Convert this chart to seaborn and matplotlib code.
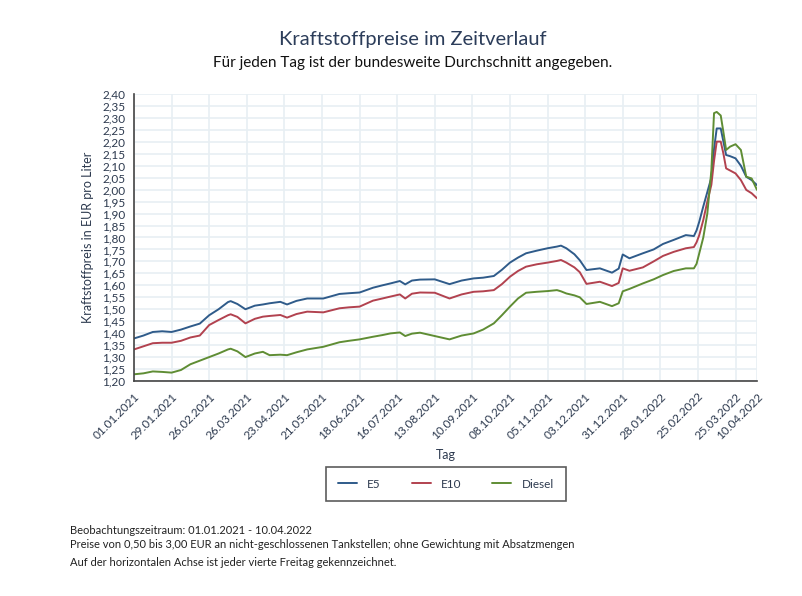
import pandas as pd
import matplotlib.pyplot as plt
from matplotlib.ticker import MultipleLocator, FuncFormatter
import seaborn as sns

# Werte (Stichtage, nicht jeder Tag)
dates = [
    "2021-01-01", "2021-01-08", "2021-01-15", "2021-01-22", "2021-01-29", "2021-02-05",
    "2021-02-12", "2021-02-19", "2021-02-26", "2021-03-05", "2021-03-12", "2021-03-14",
    "2021-03-19", "2021-03-25", "2021-04-01", "2021-04-07", "2021-04-12", "2021-04-20",
    "2021-04-25", "2021-05-02", "2021-05-10", "2021-05-22", "2021-06-03", "2021-06-10",
    "2021-06-18", "2021-06-28", "2021-07-05", "2021-07-11", "2021-07-18", "2021-07-22",
    "2021-07-27", "2021-08-02", "2021-08-13", "2021-08-24", "2021-09-02", "2021-09-11",
    "2021-09-18", "2021-09-26", "2021-10-02", "2021-10-08", "2021-10-14", "2021-10-20",
    "2021-10-28", "2021-11-05", "2021-11-12", "2021-11-15", "2021-11-19", "2021-11-25",
    "2021-11-29", "2021-12-04", "2021-12-14", "2021-12-23", "2021-12-28", "2021-12-31",
    "2022-01-05", "2022-01-15", "2022-01-23", "2022-01-30", "2022-02-07", "2022-02-16",
    "2022-02-22", "2022-02-24", "2022-02-26", "2022-03-01", "2022-03-04", "2022-03-07",
    "2022-03-09", "2022-03-11", "2022-03-14", "2022-03-16", "2022-03-18", "2022-03-21",
    "2022-03-25", "2022-03-29", "2022-04-02", "2022-04-06", "2022-04-10",
]
e5 = [
    1.378, 1.390, 1.405, 1.408, 1.405, 1.415,
    1.428, 1.440, 1.475, 1.500, 1.530, 1.534,
    1.522, 1.500, 1.515, 1.520, 1.525, 1.531,
    1.520, 1.535, 1.545, 1.545, 1.564, 1.567,
    1.570, 1.590, 1.600, 1.608, 1.618, 1.604,
    1.620, 1.624, 1.625, 1.605, 1.620, 1.629,
    1.632, 1.639, 1.665, 1.695, 1.716, 1.734,
    1.745, 1.755, 1.762, 1.766, 1.755, 1.730,
    1.705, 1.664, 1.671, 1.653, 1.670, 1.729,
    1.713, 1.734, 1.750, 1.773, 1.790, 1.810,
    1.806, 1.830, 1.866, 1.930, 1.990, 2.050,
    2.170, 2.256, 2.256, 2.200, 2.145, 2.140,
    2.131, 2.100, 2.054, 2.040, 2.019,
]
e10 = [
    1.332, 1.345, 1.358, 1.360, 1.360, 1.368,
    1.382, 1.390, 1.434, 1.455, 1.475, 1.479,
    1.468, 1.441, 1.460, 1.469, 1.472, 1.476,
    1.465, 1.480, 1.490, 1.487, 1.504, 1.508,
    1.511, 1.536, 1.545, 1.553, 1.562, 1.545,
    1.565, 1.570, 1.569, 1.545, 1.562, 1.573,
    1.575, 1.580, 1.605, 1.636, 1.660, 1.678,
    1.688, 1.695, 1.702, 1.706, 1.695, 1.675,
    1.655, 1.606, 1.615, 1.597, 1.610, 1.671,
    1.661, 1.675, 1.700, 1.723, 1.740, 1.755,
    1.760, 1.780, 1.810, 1.873, 1.950, 2.020,
    2.120, 2.201, 2.201, 2.150, 2.089, 2.080,
    2.068, 2.040, 1.999, 1.985, 1.964,
]
diesel = [
    1.228, 1.232, 1.240, 1.238, 1.235, 1.246,
    1.270, 1.285, 1.300, 1.315, 1.332, 1.335,
    1.324, 1.300, 1.315, 1.322, 1.308, 1.310,
    1.308, 1.320, 1.332, 1.343, 1.362, 1.368,
    1.374, 1.385, 1.392, 1.399, 1.403, 1.388,
    1.398, 1.402, 1.388, 1.374, 1.390, 1.399,
    1.415, 1.441, 1.475, 1.511, 1.545, 1.569,
    1.573, 1.576, 1.580, 1.575, 1.566, 1.558,
    1.550, 1.522, 1.531, 1.513, 1.525, 1.575,
    1.585, 1.608, 1.625, 1.643, 1.660, 1.671,
    1.671, 1.690, 1.734, 1.800, 1.900, 2.080,
    2.320, 2.325, 2.310, 2.240, 2.166, 2.180,
    2.190, 2.166, 2.054, 2.047, 1.999,
]

series_names = ["E5", "E10", "Diesel"]
colors = {"E5": "#2f5b8a", "E10": "#b2424f", "Diesel": "#5f8d34"}
text_col = "#2d3a4f"

df = pd.DataFrame({"Tag": pd.to_datetime(dates), "E5": e5, "E10": e10, "Diesel": diesel})
long_df = df.melt(id_vars="Tag", var_name="Sorte", value_name="Preis")

sns.set_theme(style="white")
plt.rcParams["font.family"] = ["Lato", "DejaVu Sans"]

fig = plt.figure(figsize=(8.03, 5.96), dpi=100)
ax = fig.add_axes([134 / 803, 1 - 381 / 596, (757 - 134) / 803, (381 - 94) / 596])

sns.lineplot(data=long_df, x="Tag", y="Preis", hue="Sorte", hue_order=series_names,
             palette=colors, linewidth=1.4, ax=ax, legend=True)

start = pd.Timestamp("2021-01-01")
end = pd.Timestamp("2022-04-10")
ticks = list(pd.date_range(start, end, freq="28D")) + [end]
ax.set_xlim(start, end)
ax.set_xticks(ticks)
ax.set_xticklabels([t.strftime("%d.%m.%Y") for t in ticks], rotation=45, ha="right",
                   rotation_mode="anchor", fontsize=8.5, color=text_col)

ax.set_ylim(1.20, 2.40)
ax.yaxis.set_major_locator(MultipleLocator(0.05))
ax.yaxis.set_major_formatter(FuncFormatter(lambda v, p: f"{v:.2f}".replace(".", ",")))
ax.tick_params(axis="y", labelsize=8.5, labelcolor=text_col, length=4, width=1, color="#444444", pad=2)
ax.tick_params(axis="x", length=5, width=1, color="#444444", pad=2)

ax.grid(True, color="#e8eff3", linewidth=1.2)
ax.set_axisbelow(True)
for s in ["top", "right"]:
    ax.spines[s].set_visible(False)
for s in ["left", "bottom"]:
    ax.spines[s].set_color("#444444")
    ax.spines[s].set_linewidth(1.2)

ax.set_xlabel("Tag", fontsize=9, color=text_col, labelpad=6)
ax.set_ylabel("Kraftstoffpreis in EUR pro Liter", fontsize=9, color=text_col, labelpad=6)

handles, labels = ax.get_legend_handles_labels()
leg = ax.legend(handles, labels, loc="center", bbox_to_anchor=(446 / 803, 1 - 484 / 596),
                bbox_transform=fig.transFigure, ncol=3, frameon=True, fontsize=8.5,
                handlelength=1.6, columnspacing=2.6, handletextpad=0.9, borderpad=1.0,
                borderaxespad=0, fancybox=False, edgecolor="#333333")
leg.get_frame().set_linewidth(1.2)
for t in leg.get_texts():
    t.set_color(text_col)

fig.text(413 / 803, 1 - 40 / 596, "Kraftstoffpreise im Zeitverlauf", ha="center", va="center",
         fontsize=14.5, color="#2c3d5a")
fig.text(413 / 803, 1 - 63 / 596, "Für jeden Tag ist der bundesweite Durchschnitt angegeben.",
         ha="center", va="center", fontsize=11, color="#111111")

notes = [
    (531, "Beobachtungszeitraum: 01.01.2021 - 10.04.2022"),
    (545, "Preise von 0,50 bis 3,00 EUR an nicht-geschlossenen Tankstellen; ohne Gewichtung mit Absatzmengen"),
    (563, "Auf der horizontalen Achse ist jeder vierte Freitag gekennzeichnet."),
]
for y, txt in notes:
    fig.text(70 / 803, 1 - y / 596, txt, ha="left", va="center", fontsize=8, color="#222222")

fig.savefig("out.png", dpi=100)
